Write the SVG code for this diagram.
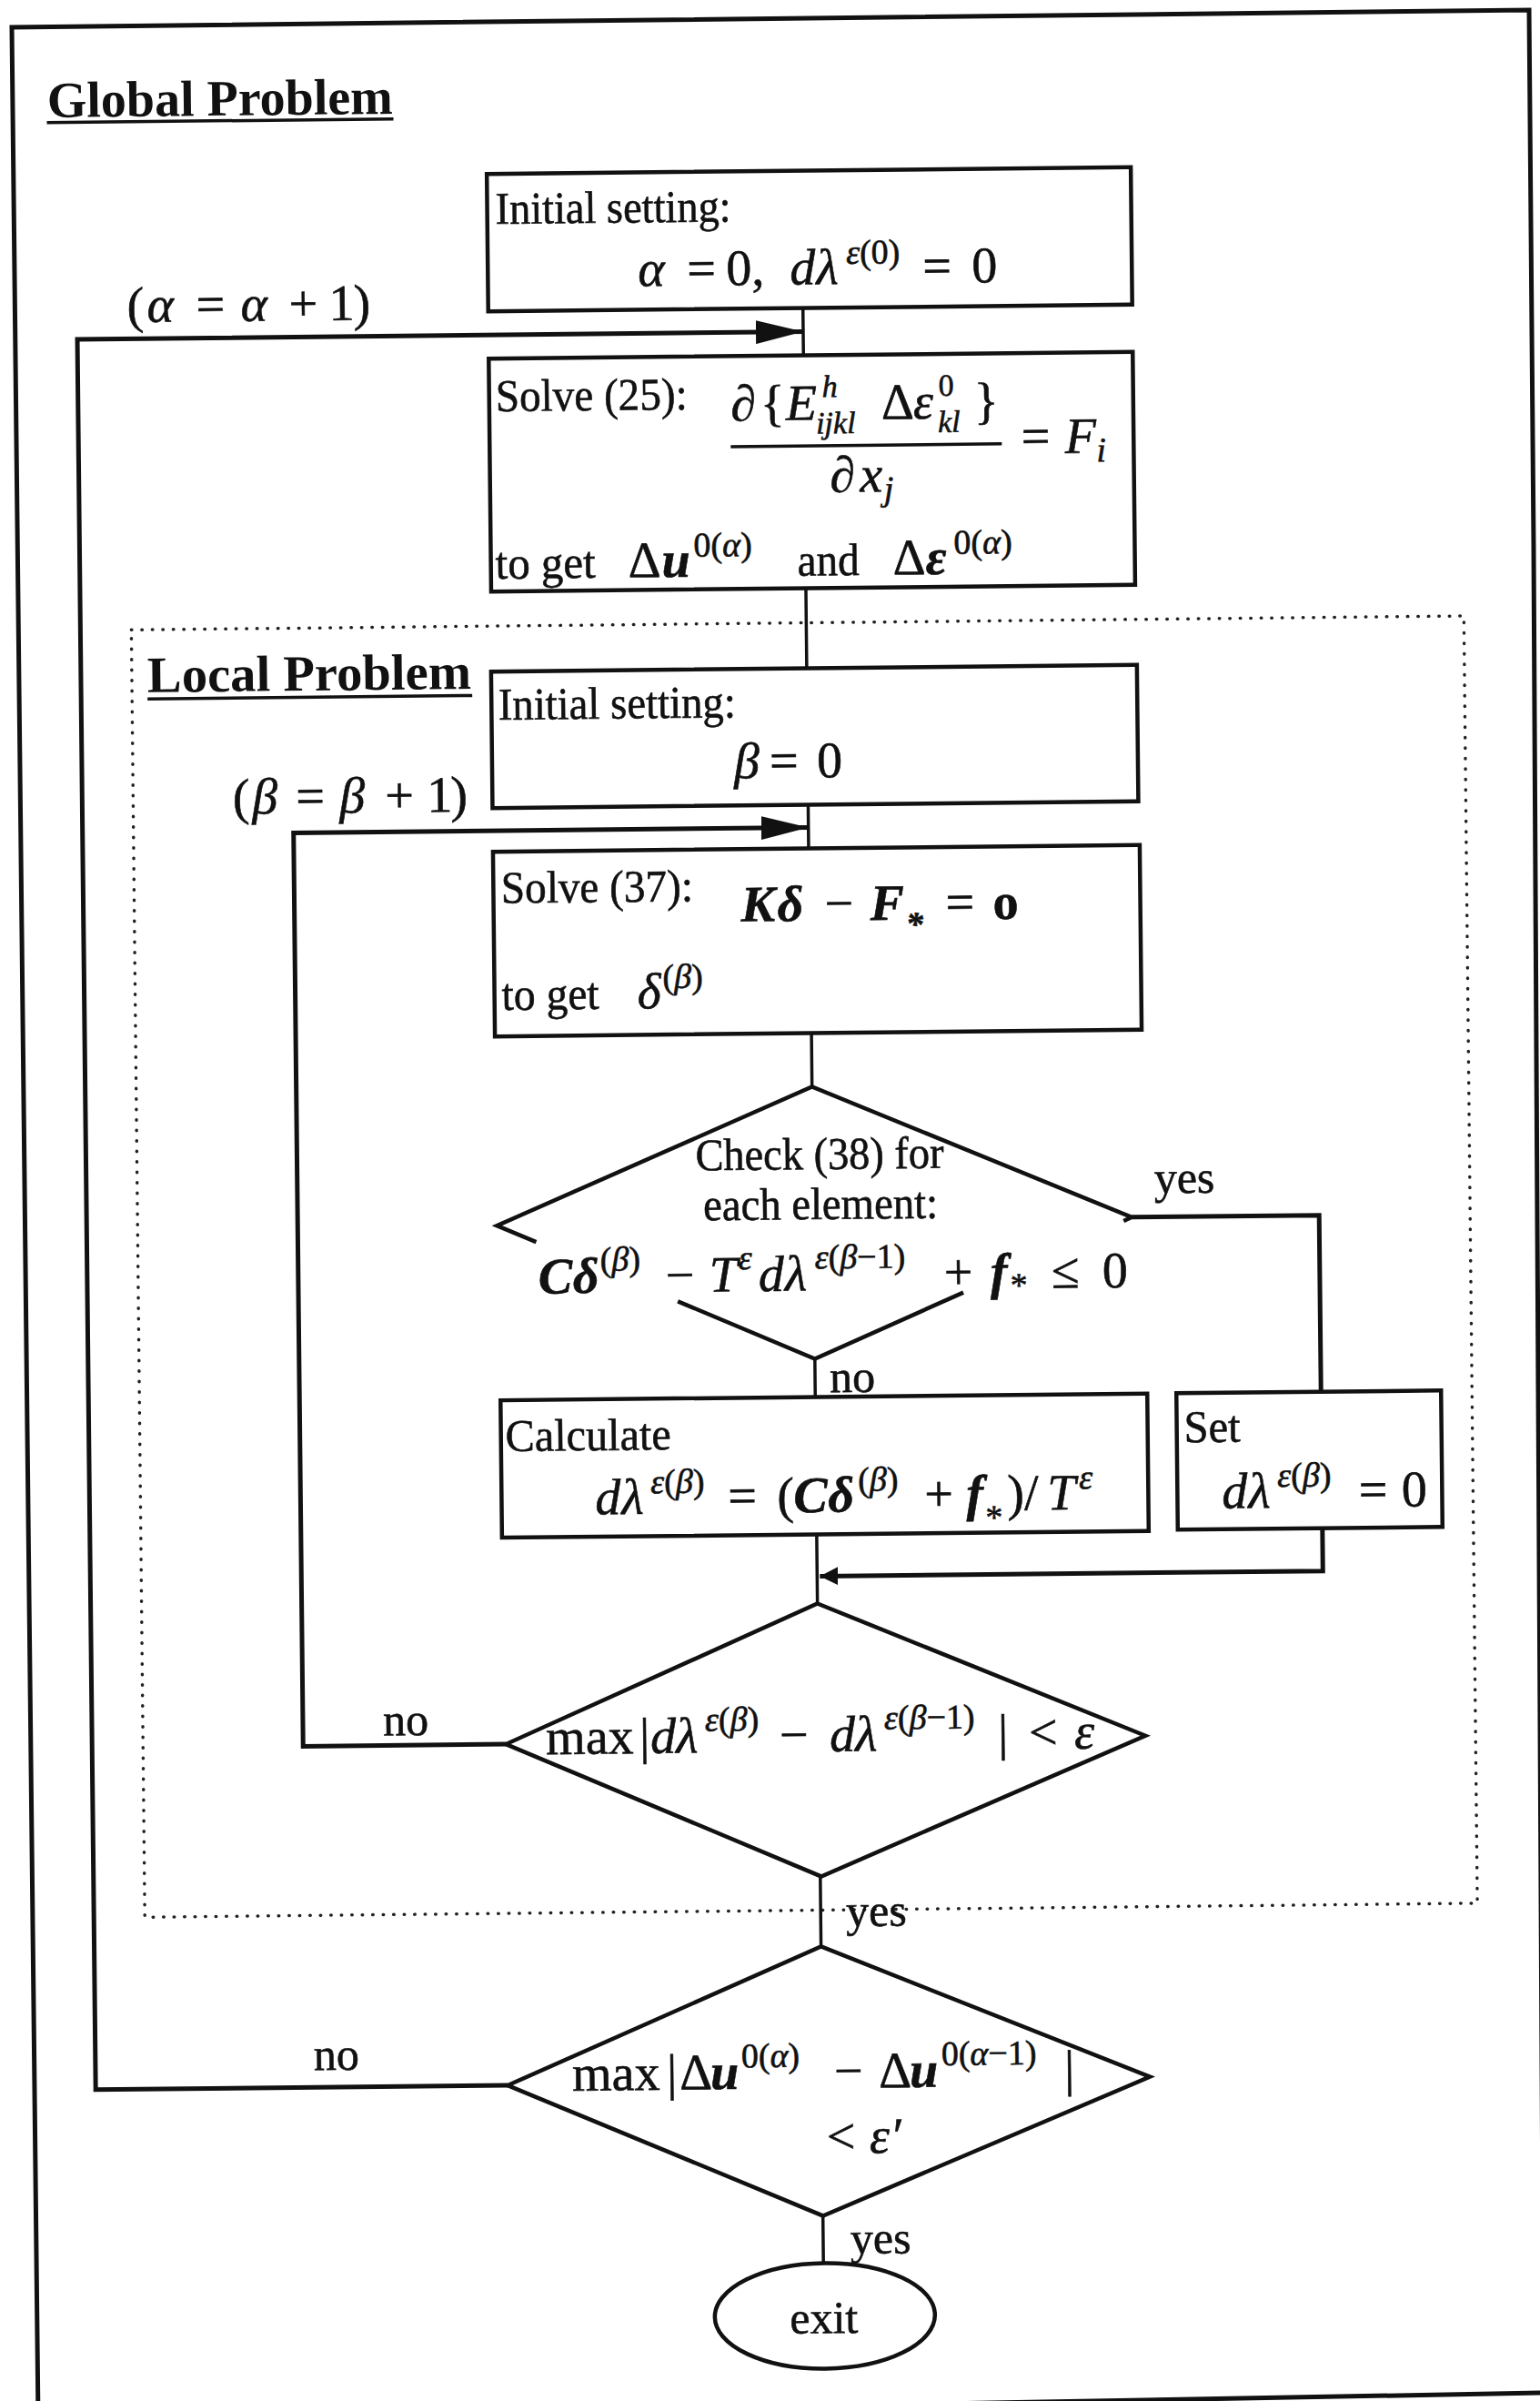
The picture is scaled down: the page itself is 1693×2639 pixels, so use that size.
<svg xmlns="http://www.w3.org/2000/svg" width="1693" height="2639" viewBox="0 0 1693 2639">
<defs>
<style>
.t{font-family:"Liberation Serif","Times New Roman",serif;font-size:50px;fill:#111;stroke:#111;stroke-width:0.6}
.h{font-family:"Liberation Serif","Times New Roman",serif;font-size:56px;font-weight:bold;fill:#111}
.m{font-family:"Liberation Serif","Times New Roman",serif;font-size:56px;font-style:italic;fill:#111;stroke:#111;stroke-width:0.6}
.up{font-style:normal}
.bd{font-weight:bold}
.s{font-size:38px}
.ss{font-size:34px}
.box{fill:none;stroke:#111;stroke-width:4.5}
.ln{fill:none;stroke:#111;stroke-width:3.5}
.lp{fill:none;stroke:#111;stroke-width:5}
.dot{fill:none;stroke:#222;stroke-width:3.5;stroke-dasharray:0.5 11;stroke-linecap:round}
.frame{fill:none;stroke:#111;stroke-width:5}
</style>
<marker id="ah" markerWidth="52" markerHeight="26" refX="52" refY="13" orient="auto" markerUnits="userSpaceOnUse"><path d="M0,0 L52,13 L0,26 Z" fill="#111"/></marker>
<marker id="as" markerWidth="20" markerHeight="20" refX="20" refY="10" orient="auto" markerUnits="userSpaceOnUse"><path d="M0,0 L20,10 L0,20 Z" fill="#111"/></marker>
</defs>
<rect width="1693" height="2639" fill="#fff"/>
<path class="frame" d="M42,2660 L13,30 L1681,11 L1686,600 L1697,2630 Z"/>
<g transform="rotate(-0.6 846 1320)">
<g id="titles">
<text class="h" x="64.5" y="120.7" textLength="380" lengthAdjust="spacingAndGlyphs">Global Problem</text>
<line class="ln" x1="64" y1="126.5" x2="445" y2="126.5"/>
</g>
<g id="local-frame">
<rect class="dot" x="151" y="685" width="1465" height="1415"/>
<text class="h" x="168" y="753.7" textLength="356" lengthAdjust="spacingAndGlyphs">Local Problem</text>
<line class="ln" x1="168" y1="761" x2="525" y2="761"/>
</g>
<g id="connectors">
<path class="ln" d="M893,339 V391 M893,647 V735 M893,885 V933 M894,1136 V1195 M894,1494 V1536 M894,1687 V1763 M894,2063 V2140 M893,2436 V2488"/>
<path class="lp" d="M548,2289 L95,2289 L95,365 L893,365" marker-end="url(#ah)"/>
<path class="lp" d="M550,1914 L327,1914 L327,910 L893,910" marker-end="url(#ah)"/>
<path class="lp" d="M1244,1342 L1450,1342 L1450,1536"/>
<path class="lp" d="M1450,1686 L1450,1733 L897,1733" marker-end="url(#as)"/>
<text class="m" y="347"><tspan class="up" x="150">(</tspan><tspan x="172">α</tspan><tspan class="up" x="226">=</tspan><tspan x="275">α</tspan><tspan class="up" x="328">+</tspan><tspan class="up" x="372">1</tspan><tspan class="up" x="399">)</tspan></text>
<text class="m" y="888.5"><tspan class="up" x="260.5">(</tspan><tspan x="282">β</tspan><tspan class="up" x="330">=</tspan><tspan x="378">β</tspan><tspan class="up" x="428">+</tspan><tspan class="up" x="474">1</tspan><tspan class="up" x="500">)</tspan></text>
<text class="t" x="1269" y="1316">yes</text>
<text class="t" x="910" y="1531">no</text>
<text class="t" x="415" y="1903">no</text>
<text class="t" x="922" y="2118">yes</text>
<text class="t" x="335" y="2270">no</text>
<text class="t" x="923" y="2478">yes</text>
</g>
<g id="init-global">
<rect class="box" x="547" y="188" width="708" height="151"/>
<text class="t" x="556" y="243" textLength="259" lengthAdjust="spacingAndGlyphs">Initial setting:</text>
<text class="m" y="313"><tspan x="712">α</tspan><tspan class="up" x="766">=</tspan><tspan class="up" x="809">0,</tspan><tspan x="879">d</tspan><tspan x="908">λ</tspan><tspan class="s" x="941" y="291">ε</tspan><tspan class="s up" y="291">(0)</tspan><tspan class="up" x="1025" y="313">=</tspan><tspan class="up" x="1079">0</tspan></text>
</g>
<g id="solve-global">
<rect class="box" x="547" y="391" width="708" height="256"/>
<text class="t" x="554" y="449" textLength="211" lengthAdjust="spacingAndGlyphs">Solve (25):</text>
<text class="m" y="462"><tspan x="812.6">∂</tspan><tspan class="up" x="845">{</tspan><tspan x="873">E</tspan><tspan class="ss" x="913" y="437">h</tspan><tspan class="ss" x="906" y="477">ijkl</tspan><tspan class="up" x="978" y="462">Δ</tspan><tspan x="1013">ε</tspan><tspan class="ss up" x="1041" y="437">0</tspan><tspan class="ss" x="1040" y="477">kl</tspan><tspan class="up" x="1080" y="462">}</tspan></text>
<line class="ln" x1="812" y1="490.5" x2="1110" y2="490.5"/>
<text class="m" y="541.5"><tspan x="920.6">∂</tspan><tspan x="953.6">x</tspan><tspan class="s" x="980" y="551">j</tspan></text>
<text class="m" y="501.5"><tspan class="up" x="1131.6">=</tspan><tspan x="1179.6">F</tspan><tspan class="s" x="1214" y="511">i</tspan></text>
<text class="t" x="552" y="633" textLength="110" lengthAdjust="spacingAndGlyphs">to get</text>
<text class="m" y="633"><tspan class="up" x="698">Δ</tspan><tspan class="bd" x="735">u</tspan><tspan class="s up" x="770" y="611">0(</tspan><tspan class="s" y="611">α</tspan><tspan class="s up" y="611">)</tspan><tspan class="up" x="989" y="633">Δ</tspan><tspan class="bd" x="1025">ε</tspan><tspan class="s up" x="1056" y="611">0(</tspan><tspan class="s" y="611">α</tspan><tspan class="s up" y="611">)</tspan></text>
<text class="t" x="884" y="633" textLength="68" lengthAdjust="spacingAndGlyphs">and</text>
</g>
<g id="init-local">
<rect class="box" x="546" y="735" width="710" height="150"/>
<text class="t" x="553.5" y="788" textLength="261" lengthAdjust="spacingAndGlyphs">Initial setting:</text>
<text class="m" y="855"><tspan x="812">β</tspan><tspan class="up" x="851">=</tspan><tspan class="up" x="903">0</tspan></text>
</g>
<g id="solve-local">
<rect class="box" x="546" y="933" width="711" height="203"/>
<text class="t" x="554.5" y="989.5" textLength="211" lengthAdjust="spacingAndGlyphs">Solve (37):</text>
<text class="m bd" y="1012.5"><tspan x="818">K</tspan><tspan x="858">δ</tspan><tspan class="up" x="910" font-weight="normal">−</tspan><tspan x="960">F</tspan><tspan class="s" x="999" y="1030">*</tspan><tspan class="up" x="1043" y="1012.5" font-weight="normal">=</tspan><tspan class="up" x="1095">o</tspan></text>
<text class="t" x="554" y="1107" textLength="107" lengthAdjust="spacingAndGlyphs">to get</text>
<text class="m" y="1107"><tspan x="703">δ</tspan><tspan class="s up" x="731" y="1085">(</tspan><tspan class="s" y="1085">β</tspan><tspan class="s up" y="1085">)</tspan></text>
</g>
<g id="check">
<path class="box" d="M589,1362.5 L546,1344 L894,1195 L1244,1342 L1235,1346 M744,1429.3 L894,1494 L1058,1422.8"/>
<text class="t" x="765" y="1285.6" textLength="273" lengthAdjust="spacingAndGlyphs">Check (38) for</text>
<text class="t" x="773" y="1340.6" textLength="258" lengthAdjust="spacingAndGlyphs">each element:</text>
<text class="m" y="1419"><tspan class="bd" x="591">C</tspan><tspan class="bd" x="629">δ</tspan><tspan class="s up" x="659" y="1395">(</tspan><tspan class="s" y="1395">β</tspan><tspan class="s up" y="1395">)</tspan><tspan class="up" x="731" y="1419">−</tspan><tspan x="779">T</tspan><tspan class="s" x="811" y="1395">ε</tspan><tspan x="833" y="1419">d</tspan><tspan x="862">λ</tspan><tspan class="s" x="895" y="1395">ε</tspan><tspan class="s up" y="1395">(</tspan><tspan class="s" y="1395">β</tspan><tspan class="s up" y="1395">−1)</tspan><tspan class="up" x="1037" y="1419">+</tspan><tspan class="bd" x="1088">f</tspan><tspan class="s" x="1108" y="1428">*</tspan><tspan class="up" x="1155" y="1419">≤</tspan><tspan class="up" x="1211">0</tspan></text>
</g>
<g id="calculate">
<rect class="box" x="548" y="1536" width="711" height="151"/>
<text class="t" x="553" y="1592" textLength="182" lengthAdjust="spacingAndGlyphs">Calculate</text>
<text class="m" y="1662.5"><tspan x="651">d</tspan><tspan x="680">λ</tspan><tspan class="s" x="712" y="1640">ε</tspan><tspan class="s up" y="1640">(</tspan><tspan class="s" y="1640">β</tspan><tspan class="s up" y="1640">)</tspan><tspan class="up" x="797" y="1662.5">=</tspan><tspan class="up" x="851">(</tspan><tspan class="bd" x="869">C</tspan><tspan class="bd" x="907">δ</tspan><tspan class="s up" x="940" y="1640">(</tspan><tspan class="s" y="1640">β</tspan><tspan class="s up" y="1640">)</tspan><tspan class="up" x="1013" y="1662.5">+</tspan><tspan class="bd" x="1059">f</tspan><tspan class="s" x="1078" y="1683">*</tspan><tspan class="up" x="1104" y="1662.5">)/</tspan><tspan x="1148">T</tspan><tspan class="s" x="1183" y="1640">ε</tspan></text>
</g>
<g id="set">
<rect class="box" x="1291" y="1536" width="291" height="150"/>
<text class="t" x="1299" y="1590" textLength="62" lengthAdjust="spacingAndGlyphs">Set</text>
<text class="m" y="1663"><tspan x="1340">d</tspan><tspan x="1369">λ</tspan><tspan class="s" x="1401" y="1640">ε</tspan><tspan class="s up" y="1640">(</tspan><tspan class="s" y="1640">β</tspan><tspan class="s up" y="1640">)</tspan><tspan class="up" x="1490.5" y="1663">=</tspan><tspan class="up" x="1537.5">0</tspan></text>
</g>
<g id="converge-local">
<polygon class="box" points="894,1763 1253,1912 895,2063 550,1914"/>
<text class="m" y="1925.6"><tspan class="up" x="594">max</tspan><tspan class="up" x="697">|</tspan><tspan x="709">d</tspan><tspan x="737">λ</tspan><tspan class="s" x="769" y="1902">ε</tspan><tspan class="s up" y="1902">(</tspan><tspan class="s" y="1902">β</tspan><tspan class="s up" y="1902">)</tspan><tspan class="up" x="851" y="1925.6">−</tspan><tspan x="906">d</tspan><tspan x="934">λ</tspan><tspan class="s" x="966" y="1902">ε</tspan><tspan class="s up" y="1902">(</tspan><tspan class="s" y="1902">β</tspan><tspan class="s up" y="1902">−1)</tspan><tspan class="up" x="1091" y="1925.6">|</tspan><tspan class="up" x="1125">&lt;</tspan><tspan x="1175">ε</tspan></text>
</g>
<g id="converge-global">
<polygon class="box" points="894,2140 1254,2287 893,2436 548,2289"/>
<text class="m" y="2295.6"><tspan class="up" x="619">max</tspan><tspan class="up" x="723">|</tspan><tspan class="up" x="737">Δ</tspan><tspan class="bd" x="771">u</tspan><tspan class="s up" x="805" y="2272">0(</tspan><tspan class="s" y="2272">α</tspan><tspan class="s up" y="2272">)</tspan><tspan class="up" x="907" y="2295.6">−</tspan><tspan class="up" x="956">Δ</tspan><tspan class="bd" x="990">u</tspan><tspan class="s up" x="1025" y="2272">0(</tspan><tspan class="s" y="2272">α</tspan><tspan class="s up" y="2272">−1)</tspan><tspan class="up" x="1160" y="2295.6">|</tspan></text>
<text class="m" y="2367.6"><tspan class="up" x="898">&lt;</tspan><tspan x="945">ε</tspan><tspan class="up" x="971">′</tspan></text>
</g>
<g id="exit">
<ellipse class="box" cx="894" cy="2546" rx="121" ry="58"/>
<text class="t" x="893" y="2565" text-anchor="middle">exit</text>
</g>
</g>
</svg>
